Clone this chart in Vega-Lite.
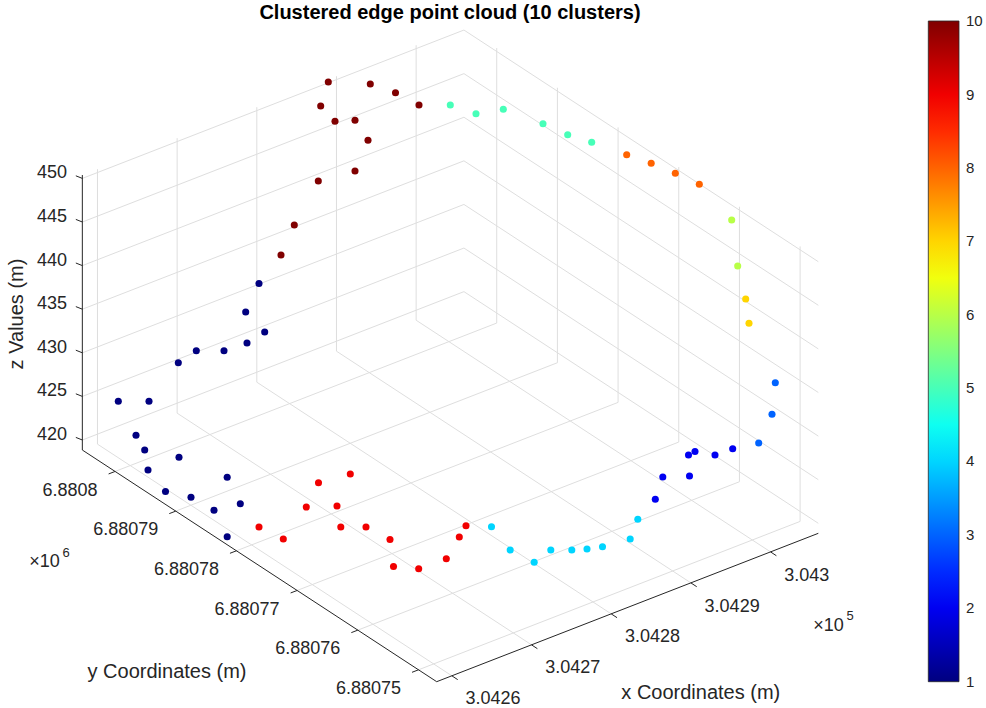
{
  "$schema": "https://vega.github.io/schema/vega-lite/v6.json",
  "width": 986,
  "height": 708,
  "autosize": "none",
  "padding": 0,
  "background": "white",
  "config": {"view": {"stroke": null}},
  "datasets": {
    "points": [
      {"cluster": 1, "u": 259, "v": 283.5}, {"cluster": 1, "u": 245.7, "v": 312}, {"cluster": 1, "u": 264.7, "v": 332}, {"cluster": 1, "u": 247, "v": 343}, {"cluster": 1, "u": 224, "v": 350.7}, {"cluster": 1, "u": 196.3, "v": 350.7}, {"cluster": 1, "u": 178.3, "v": 362.7}, {"cluster": 1, "u": 118.3, "v": 401.3}, {"cluster": 1, "u": 149, "v": 401.3}, {"cluster": 1, "u": 136, "v": 435.3}, {"cluster": 1, "u": 144.7, "v": 450}, {"cluster": 1, "u": 148, "v": 470}, {"cluster": 1, "u": 179, "v": 457.3}, {"cluster": 1, "u": 165.5, "v": 491.5}, {"cluster": 1, "u": 191, "v": 497.3}, {"cluster": 1, "u": 214, "v": 510.2}, {"cluster": 1, "u": 227.2, "v": 477.3}, {"cluster": 1, "u": 240.3, "v": 503.7}, {"cluster": 1, "u": 227.2, "v": 536.7},
      {"cluster": 2, "u": 695, "v": 451.5}, {"cluster": 2, "u": 688.5, "v": 455}, {"cluster": 2, "u": 715, "v": 455}, {"cluster": 2, "u": 732.7, "v": 448.7}, {"cluster": 2, "u": 662.8, "v": 477}, {"cluster": 2, "u": 689.5, "v": 476}, {"cluster": 2, "u": 655.3, "v": 499.3},
      {"cluster": 3, "u": 775.3, "v": 382.7}, {"cluster": 3, "u": 772, "v": 414.3}, {"cluster": 3, "u": 758.7, "v": 443},
      {"cluster": 4, "u": 491.5, "v": 526.7}, {"cluster": 4, "u": 510.2, "v": 550}, {"cluster": 4, "u": 534.2, "v": 562.2}, {"cluster": 4, "u": 550.8, "v": 550}, {"cluster": 4, "u": 571.8, "v": 550}, {"cluster": 4, "u": 587, "v": 549}, {"cluster": 4, "u": 602.5, "v": 546.7}, {"cluster": 4, "u": 630.2, "v": 539}, {"cluster": 4, "u": 637.8, "v": 519.2},
      {"cluster": 5, "u": 450.3, "v": 105}, {"cluster": 5, "u": 476, "v": 113.7}, {"cluster": 5, "u": 503.3, "v": 109.3}, {"cluster": 5, "u": 543, "v": 123.7}, {"cluster": 5, "u": 567.7, "v": 134.7}, {"cluster": 5, "u": 591.7, "v": 142.3},
      {"cluster": 6, "u": 731.7, "v": 220}, {"cluster": 6, "u": 737.7, "v": 266},
      {"cluster": 7, "u": 745.7, "v": 299}, {"cluster": 7, "u": 749, "v": 323.3},
      {"cluster": 8, "u": 626.7, "v": 154.7}, {"cluster": 8, "u": 651.2, "v": 163.3}, {"cluster": 8, "u": 675.3, "v": 173.3}, {"cluster": 8, "u": 699.3, "v": 184.3},
      {"cluster": 9, "u": 350.3, "v": 474}, {"cluster": 9, "u": 318.5, "v": 482.7}, {"cluster": 9, "u": 306.3, "v": 507}, {"cluster": 9, "u": 337, "v": 506}, {"cluster": 9, "u": 259, "v": 527}, {"cluster": 9, "u": 340.8, "v": 527}, {"cluster": 9, "u": 366, "v": 527}, {"cluster": 9, "u": 283.3, "v": 539}, {"cluster": 9, "u": 390, "v": 539.5}, {"cluster": 9, "u": 393.5, "v": 566.5}, {"cluster": 9, "u": 418.7, "v": 568.7}, {"cluster": 9, "u": 446.3, "v": 558.7}, {"cluster": 9, "u": 459.3, "v": 537}, {"cluster": 9, "u": 466, "v": 525.7},
      {"cluster": 10, "u": 328.3, "v": 82}, {"cluster": 10, "u": 370.3, "v": 84}, {"cluster": 10, "u": 395.5, "v": 92.8}, {"cluster": 10, "u": 419, "v": 105}, {"cluster": 10, "u": 320.7, "v": 106}, {"cluster": 10, "u": 335, "v": 121.3}, {"cluster": 10, "u": 355, "v": 120.3}, {"cluster": 10, "u": 368, "v": 140.3}, {"cluster": 10, "u": 355, "v": 171}, {"cluster": 10, "u": 318.3, "v": 181}, {"cluster": 10, "u": 294.3, "v": 225}, {"cluster": 10, "u": 281, "v": 255}
    ],
    "grid": [
      {"u": 451.84, "v": 675.81, "u2": 97.47, "v2": 444.14}, {"u": 531.51, "v": 644.83, "u2": 177.14, "v2": 413.16}, {"u": 611.18, "v": 613.85, "u2": 256.81, "v2": 382.18}, {"u": 690.85, "v": 582.87, "u2": 336.48, "v2": 351.2}, {"u": 770.52, "v": 551.89, "u2": 416.15, "v2": 320.22},
      {"u": 418.5, "v": 669.8, "u2": 800.12, "v2": 521.41}, {"u": 357.82, "v": 630.13, "u2": 739.44, "v2": 481.74}, {"u": 297.14, "v": 590.46, "u2": 678.76, "v2": 442.07}, {"u": 236.46, "v": 550.79, "u2": 618.08, "v2": 402.4}, {"u": 175.78, "v": 511.12, "u2": 557.4, "v2": 362.73}, {"u": 115.1, "v": 471.45, "u2": 496.72, "v2": 323.06},
      {"u": 82.33, "v": 440.03, "u2": 463.95, "v2": 291.64}, {"u": 82.33, "v": 396.43, "u2": 463.95, "v2": 248.04}, {"u": 82.33, "v": 352.83, "u2": 463.95, "v2": 204.44}, {"u": 82.33, "v": 309.23, "u2": 463.95, "v2": 160.84}, {"u": 82.33, "v": 265.63, "u2": 463.95, "v2": 117.24}, {"u": 82.33, "v": 222.03, "u2": 463.95, "v2": 73.64}, {"u": 82.33, "v": 178.43, "u2": 463.95, "v2": 30.04},
      {"u": 97.47, "v": 444.14, "u2": 97.47, "v2": 169.14}, {"u": 177.14, "v": 413.16, "u2": 177.14, "v2": 138.16}, {"u": 256.81, "v": 382.18, "u2": 256.81, "v2": 107.18}, {"u": 336.48, "v": 351.2, "u2": 336.48, "v2": 76.2}, {"u": 416.15, "v": 320.22, "u2": 416.15, "v2": 45.22},
      {"u": 463.95, "v": 291.64, "u2": 818.32, "v2": 523.31}, {"u": 463.95, "v": 248.04, "u2": 818.32, "v2": 479.71}, {"u": 463.95, "v": 204.44, "u2": 818.32, "v2": 436.11}, {"u": 463.95, "v": 160.84, "u2": 818.32, "v2": 392.51}, {"u": 463.95, "v": 117.24, "u2": 818.32, "v2": 348.91}, {"u": 463.95, "v": 73.64, "u2": 818.32, "v2": 305.31}, {"u": 463.95, "v": 30.04, "u2": 818.32, "v2": 261.71},
      {"u": 800.12, "v": 521.41, "u2": 800.12, "v2": 246.41}, {"u": 739.44, "v": 481.74, "u2": 739.44, "v2": 206.74}, {"u": 678.76, "v": 442.07, "u2": 678.76, "v2": 167.07}, {"u": 618.08, "v": 402.4, "u2": 618.08, "v2": 127.4}, {"u": 557.4, "v": 362.73, "u2": 557.4, "v2": 87.73}, {"u": 496.72, "v": 323.06, "u2": 496.72, "v2": 48.06}
    ],
    "axes": [
      {"u": 82.33, "v": 450.03, "u2": 82.33, "v2": 175.03},
      {"u": 82.33, "v": 450.03, "u2": 436.7, "v2": 681.7},
      {"u": 436.7, "v": 681.7, "u2": 818.32, "v2": 533.31},
      {"u": 451.84, "v": 675.81, "u2": 457.7, "v2": 679.64}, {"u": 531.51, "v": 644.83, "u2": 537.37, "v2": 648.66}, {"u": 611.18, "v": 613.85, "u2": 617.04, "v2": 617.68}, {"u": 690.85, "v": 582.87, "u2": 696.71, "v2": 586.7}, {"u": 770.52, "v": 551.89, "u2": 776.38, "v2": 555.72},
      {"u": 418.5, "v": 669.8, "u2": 412.0, "v2": 672.3}, {"u": 357.82, "v": 630.13, "u2": 351.32, "v2": 632.63}, {"u": 297.14, "v": 590.46, "u2": 290.64, "v2": 592.96}, {"u": 236.46, "v": 550.79, "u2": 229.96, "v2": 553.29}, {"u": 175.78, "v": 511.12, "u2": 169.28, "v2": 513.62}, {"u": 115.1, "v": 471.45, "u2": 108.6, "v2": 473.95},
      {"u": 82.33, "v": 440.0, "u2": 75.83, "v2": 437.4}, {"u": 82.33, "v": 396.4, "u2": 75.83, "v2": 393.8}, {"u": 82.33, "v": 352.8, "u2": 75.83, "v2": 350.2}, {"u": 82.33, "v": 309.2, "u2": 75.83, "v2": 306.6}, {"u": 82.33, "v": 265.6, "u2": 75.83, "v2": 263.0}, {"u": 82.33, "v": 222.0, "u2": 75.83, "v2": 219.4}, {"u": 82.33, "v": 178.4, "u2": 75.83, "v2": 175.8}
    ],
    "zlabels": [
      {"label": "420", "u": 67, "v": 435.0}, {"label": "425", "u": 67, "v": 391.4}, {"label": "430", "u": 67, "v": 347.8}, {"label": "435", "u": 67, "v": 304.2}, {"label": "440", "u": 67, "v": 260.6}, {"label": "445", "u": 67, "v": 217.0}, {"label": "450", "u": 67, "v": 173.4}
    ],
    "ylabels": [
      {"label": "6.88075", "u": 401.0, "v": 688.8}, {"label": "6.88076", "u": 340.3, "v": 649.1}, {"label": "6.88077", "u": 279.6, "v": 609.5}, {"label": "6.88078", "u": 219.0, "v": 569.8}, {"label": "6.88079", "u": 158.3, "v": 530.1}, {"label": "6.8808", "u": 97.6, "v": 490.5}
    ],
    "xlabels": [
      {"label": "3.0426", "u": 465.5, "v": 699.0}, {"label": "3.0427", "u": 545.2, "v": 668.2}, {"label": "3.0428", "u": 624.9, "v": 637.4}, {"label": "3.0429", "u": 704.6, "v": 606.8}, {"label": "3.043", "u": 784.2, "v": 576.2}
    ],
    "multipliers": [
      {"label": "×10", "u": 29.3, "v": 562}, {"label": "×10", "u": 813.3, "v": 625.5}
    ],
    "exponents": [
      {"label": "6", "u": 62.5, "v": 552.5}, {"label": "5", "u": 846.5, "v": 616}
    ],
    "axistitles": [
      {"label": "y Coordinates (m)", "u": 167, "v": 672}, {"label": "x Coordinates (m)", "u": 700.8, "v": 693}
    ],
    "ztitle": [
      {"label": "z Values (m)", "u": 17, "v": 314}
    ],
    "charttitle": [
      {"label": "Clustered edge point cloud (10 clusters)", "u": 450, "v": 19.3}
    ]
  },
  "encoding": {
    "x": {"field": "u", "type": "quantitative", "scale": {"domain": [0, 986], "nice": false, "zero": false}, "axis": null},
    "y": {"field": "v", "type": "quantitative", "scale": {"domain": [0, 708], "nice": false, "zero": false, "reverse": true}, "axis": null}
  },
  "layer": [
    {
      "data": {"name": "grid"},
      "mark": {"type": "rule", "color": "#dedede", "strokeWidth": 1},
      "encoding": {"x2": {"field": "u2"}, "y2": {"field": "v2"}}
    },
    {
      "data": {"name": "axes"},
      "mark": {"type": "rule", "color": "#262626", "strokeWidth": 1},
      "encoding": {"x2": {"field": "u2"}, "y2": {"field": "v2"}}
    },
    {
      "data": {"name": "points"},
      "mark": {"type": "circle", "size": 50, "opacity": 1},
      "encoding": {
        "color": {
          "field": "cluster", "type": "quantitative",
          "scale": {"domain": [0.998, 2.125, 4.375, 6.625, 8.875, 10.002], "range": ["#000080", "#0000ff", "#00ffff", "#ffff00", "#ff0000", "#800000"], "interpolate": "rgb"},
          "legend": {"orient": "none", "legendX": 928.3, "legendY": 21, "direction": "vertical", "title": null, "values": [1, 2, 3, 4, 5, 6, 7, 8, 9, 10], "gradientLength": 660.7, "gradientThickness": 30.7, "gradientStrokeColor": "#262626", "gradientStrokeWidth": 0.8, "labelFont": "Liberation Sans", "labelFontSize": 15, "labelColor": "#262626", "labelOffset": 7, "labelOverlap": false, "labelBaseline": "middle", "padding": 0, "offset": 0}
        }
      }
    },
    {
      "data": {"name": "zlabels"},
      "mark": {"type": "text", "align": "right", "baseline": "middle", "font": "Liberation Sans", "fontSize": 18, "color": "#262626"},
      "encoding": {"text": {"field": "label"}}
    },
    {
      "data": {"name": "ylabels"},
      "mark": {"type": "text", "align": "right", "baseline": "middle", "font": "Liberation Sans", "fontSize": 18, "color": "#262626"},
      "encoding": {"text": {"field": "label"}}
    },
    {
      "data": {"name": "xlabels"},
      "mark": {"type": "text", "align": "left", "baseline": "middle", "font": "Liberation Sans", "fontSize": 18, "color": "#262626"},
      "encoding": {"text": {"field": "label"}}
    },
    {
      "data": {"name": "multipliers"},
      "mark": {"type": "text", "align": "left", "baseline": "middle", "font": "Liberation Sans", "fontSize": 18, "color": "#262626"},
      "encoding": {"text": {"field": "label"}}
    },
    {
      "data": {"name": "exponents"},
      "mark": {"type": "text", "align": "left", "baseline": "middle", "font": "Liberation Sans", "fontSize": 13, "color": "#262626"},
      "encoding": {"text": {"field": "label"}}
    },
    {
      "data": {"name": "axistitles"},
      "mark": {"type": "text", "align": "center", "baseline": "middle", "font": "Liberation Sans", "fontSize": 20, "color": "#262626"},
      "encoding": {"text": {"field": "label"}}
    },
    {
      "data": {"name": "ztitle"},
      "mark": {"type": "text", "align": "center", "baseline": "middle", "angle": 270, "font": "Liberation Sans", "fontSize": 20, "color": "#262626"},
      "encoding": {"text": {"field": "label"}}
    },
    {
      "data": {"name": "charttitle"},
      "mark": {"type": "text", "align": "center", "baseline": "alphabetic", "font": "Liberation Sans", "fontSize": 20, "fontWeight": "bold", "color": "#000000"},
      "encoding": {"text": {"field": "label"}}
    }
  ]
}
